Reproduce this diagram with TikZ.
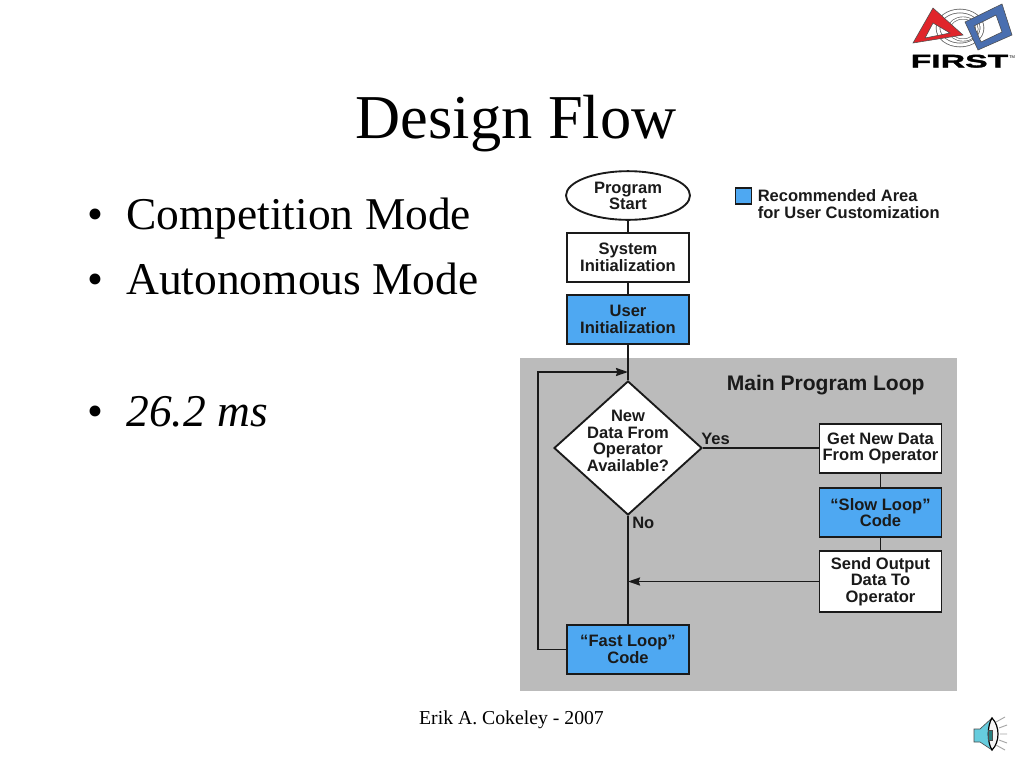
\documentclass[tikz,border=0pt]{standalone}
\usepackage{fontspec}
\setmainfont{Liberation Serif}
\newfontfamily\flowfont{Liberation Sans}
\newfontfamily\logofont{Liberation Sans Bold}[FakeStretch=1.85,FakeBold=2]
\usetikzlibrary{shapes.geometric,arrows.meta,calc}
\definecolor{userblue}{HTML}{4EA8F2}
\definecolor{loopgrey}{HTML}{BBBBBB}
\definecolor{linkblack}{HTML}{1A1A1A}
\definecolor{firstred}{HTML}{E0252B}
\definecolor{firstblue}{HTML}{4A6FB0}
\definecolor{speakercyan}{HTML}{66CCDD}
\tikzset{
  flowtext/.style={font=\flowfont\bfseries\fontsize{12.4}{12.4}\selectfont,align=center,text=linkblack},
  flowbox/.style={flowtext,draw=linkblack,line width=1.4pt,fill=white,minimum width=91.5pt,inner sep=0pt},
  userbox/.style={flowbox,fill=userblue},
  conn/.style={draw=linkblack,line width=1.4pt},
  arr/.style={conn,-{Stealth[length=9pt,width=6pt,inset=1pt]}},
  slidetext/.style={anchor=base west,inner sep=0pt,font=\fontsize{34.1}{40}\selectfont},
}
\begin{document}
\begin{tikzpicture}[x=0.75pt,y=-0.75pt]
\useasboundingbox (0,0) rectangle (1024,768);
\fill[white] (0,0) rectangle (1024,768);
% grey panel
\fill[loopgrey] (520,358) rectangle (957,691);
% slide text
\node[anchor=base,inner sep=0pt,font=\fontsize{46.8}{50}\selectfont] (title) at (516,138) {Design Flow};
\node[slidetext] (b1) at (87,229) {•};
\node[slidetext] (t1) at (126,229) {Competition Mode};
\node[slidetext] (b2) at (87,294) {•};
\node[slidetext] (t2) at (126,294) {Autonomous Mode};
\node[slidetext] (b3) at (87,426) {•};
\node[slidetext] (t3) at (126,426) {\itshape 26.2 ms};
\node[anchor=base,inner sep=0pt,font=\fontsize{14.8}{16}\selectfont] (foot) at (511.5,724) {Erik A. Cokeley - 2007};
% flow nodes
\node[draw=linkblack,line width=1.4pt,fill=white,ellipse,minimum width=93pt,minimum height=36.5pt,inner sep=0pt] (start) at (628,195.5) {};
\node[flowtext,inner sep=0pt] (starttext) at (628,196) {Program\\Start};
\node[flowbox,minimum height=36.5pt] (sys) at (628,257.5) {System\\Initialization};
\node[userbox,minimum height=36.5pt] (user) at (628,319.5) {User\\Initialization};
\node[draw=linkblack,line width=1.4pt,fill=white,diamond,minimum width=111pt,minimum height=100.5pt,inner sep=0pt] (dec) at (628,448) {};
\node[flowtext,inner sep=0pt] (dectext) at (628,441) {New\\Data From\\Operator\\Available?};
\node[flowbox,minimum height=36.5pt] (get) at (880.5,448.5) {Get New Data\\From Operator};
\node[userbox,minimum height=36.5pt] (slow) at (880.5,512.5) {“Slow Loop”\\Code};
\node[flowbox,minimum height=45.5pt] (send) at (880.5,581.5) {Send Output\\Data To\\Operator};
\node[userbox,minimum height=36.5pt] (fast) at (628,649.5) {“Fast Loop”\\Code};
% legend
\node[draw=linkblack,line width=0.9pt,fill=userblue,minimum width=12.5pt,minimum height=12pt,inner sep=0pt] (legbox) at (743.5,196) {};
\node[flowtext,align=left,anchor=west,inner sep=0pt] (legtext) at (757.5,204) {Recommended Area\\for User Customization};
% labels
\node[flowtext,font=\flowfont\bfseries\fontsize{15.8}{18}\selectfont,anchor=base west,inner sep=0pt] (looplabel) at (726.5,390) {Main Program Loop};
\node[flowtext,anchor=base west,inner sep=0pt] (yes) at (701,444) {Yes};
\node[flowtext,anchor=base west,inner sep=0pt] (no) at (632,528) {No};
% connectors
\coordinate (joinA) at (628,372);
\coordinate (joinB) at (628,581.5);
\coordinate (loopcorner) at (538,372);
\draw[conn] (start) -- (sys);
\draw[conn] (sys) -- (user);
\draw[conn] (user) -- (dec);
\draw[conn] (dec.east) -- (dec.east -| get.west);
\draw[conn] (get) -- (slow);
\draw[conn] (slow) -- (send);
\draw[conn] (dec.south) -- (fast.north);
\draw[arr] (send.west) -- (joinB);
\draw[arr] (fast.west) -| (loopcorner) -- (joinA);
% FIRST logo
\begin{scope}
  \draw[black!60,line width=3.4pt] (960,28) ellipse (22 and 17);
  \draw[white,line width=2.2pt] (960,28) ellipse (22 and 17);
  \draw[black!60,line width=2.2pt] (963,29) ellipse (14 and 11);
  \draw[white,line width=1.2pt] (963,29) ellipse (14 and 11);
  \fill[firstred,even odd rule,draw=black!70,line width=0.4pt] (933,8) -- (963,35) -- (913,43) -- cycle (933,23) -- (925,38) -- (950,33) -- cycle;
  \fill[firstblue,even odd rule,draw=black!70,line width=0.4pt] (965,22) -- (1002,4) -- (1012,35) -- (978,50) -- cycle (974,26) -- (981,42) -- (1002,32) -- (996,15) -- cycle;
  \node[anchor=base,inner sep=0pt,font=\logofont\fontsize{13.7}{14}\selectfont] (firstlogo) at (959.5,67.5) {FIRST};
  \node[anchor=west,inner sep=0pt,font=\flowfont\fontsize{3}{3}\selectfont] (tm) at (1009,57.5) {TM};
\end{scope}
% speaker icon
\begin{scope}
  \fill[speakercyan,draw=black!70,line width=0.5pt] (974,729) -- (980,729) -- (992,718) -- (992,750) -- (980,742) -- (974,742) -- cycle;
  \fill[white!92!gray,draw=black,line width=0.9pt] (992,718) .. controls (1000,726) and (1000,742) .. (992,750) .. controls (987,742) and (987,726) .. (992,718) -- cycle;
  \fill[teal!70!gray,draw=black!70,line width=0.4pt] (988,730) rectangle (992,740);
  \draw[gray!70,line width=0.7pt] (996,722) -- (1005,717) (999,728) -- (1007,725) (1000,734) -- (1007,734) (999,740) -- (1007,743) (996,745) -- (1005,750);
\end{scope}
\end{tikzpicture}
\end{document}
